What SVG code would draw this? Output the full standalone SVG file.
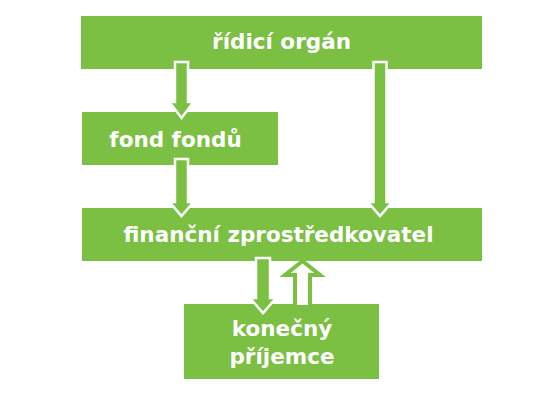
<svg xmlns="http://www.w3.org/2000/svg" width="556" height="417" viewBox="0 0 556 417">
<style>
.box{fill:#7bc043}
.t{font-family:"DejaVu Sans","Verdana",sans-serif;font-weight:bold;font-size:21.5px;fill:#fff;text-anchor:middle}
.a{fill:#7bc043;stroke:#fff;stroke-width:2.5;stroke-linejoin:miter}
.b{fill:#fff;stroke:#7bc043;stroke-width:4;stroke-linejoin:miter}
</style>
<rect width="556" height="417" fill="#fff"/>
<g id="n1"><rect class="box" x="81" y="16" width="401" height="53"/><text class="t" x="281.5" y="49">řídicí orgán</text></g>
<g id="n2"><rect class="box" x="82" y="112" width="196" height="53"/><text class="t" x="175.5" y="146.5">fond fondů</text></g>
<g id="n3"><rect class="box" x="82" y="208" width="400" height="53"/><text class="t" x="278.5" y="242">finanční zprostředkovatel</text></g>
<g id="n4"><rect class="box" x="184" y="304" width="195" height="75"/><text class="t" x="282" y="336">konečný</text><text class="t" x="282" y="363.5">příjemce</text></g>
<g id="connectors">
<polygon class="a" points="175,62 188,62 188,102 193.5,102 181.5,118 169.5,102 175,102"/>
<polygon class="a" points="175,159 188,159 188,202 193.5,202 181.5,216 169.5,202 175,202"/>
<polygon class="a" points="373.5,62 386.5,62 386.5,202 392,202 380,216 368,202 373.5,202"/>
<polygon class="a" points="256,258 270,258 270,298 276,298 263,313 250,298 256,298"/>
<polygon class="b" points="295,307 310,307 310,275 320,275 302.5,261 285,275 295,275"/>
</g>
</svg>
